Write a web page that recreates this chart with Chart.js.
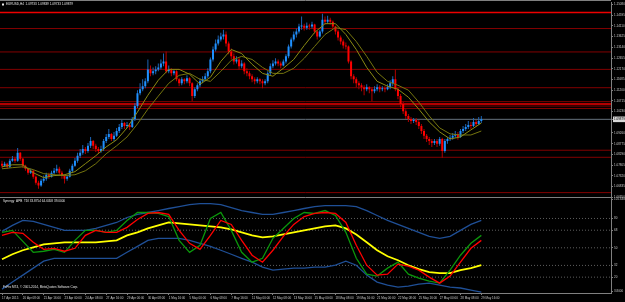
<!DOCTYPE html>
<html>
<head>
  <title>EURUSD,H4</title>
  <script src="https://cdn.jsdelivr.net/npm/chart.js"></script>
  <style>
    html, body { margin: 0; padding: 0; background: #000; overflow: hidden; }
  </style>
</head>
<body>
  <canvas id="myChart" width="625" height="302"></canvas>

  <script>
    // Header / footer texts
    const symbolTitle = 'EURUSD,H4  1.09733 1.09839 1.09733 1.09879';
    const tdiTitle = 'Synergy_APB_TDI 33.8754 64.6058 39.0000';
    const copyright = 'FxPro MT4, \u00a9 2001-2014, MetaQuotes Software Corp.';

    // Time axis: one label every 8 H4 bars
    const labelEvery = 8;
    const timeLabels = ['17 Apr 2015', '20 Apr 08:00', '21 Apr 16:00', '23 Apr 00:00', '24 Apr 08:00',
      '27 Apr 16:00', '29 Apr 00:00', '30 Apr 08:00', '1 May 16:00', '5 May 00:00', '6 May 08:00',
      '7 May 16:00', '11 May 00:00', '12 May 08:00', '13 May 16:00', '15 May 00:00', '18 May 08:00',
      '19 May 16:00', '21 May 00:00', '22 May 08:00', '25 May 16:00', '27 May 00:00', '28 May 08:00',
      '29 May 16:00'];

    // Candles (open of each bar = close of the previous one)
    const firstOpen = 1.0787;
    const closes = [
      1.0778, 1.0787, 1.0773, 1.0800, 1.0809, 1.0800, 1.0836, 1.0809, 1.0778, 1.0764,
      1.0746, 1.0755, 1.0728, 1.0701, 1.0688, 1.0710, 1.0719, 1.0737, 1.0728, 1.0746,
      1.0755, 1.0764, 1.0746, 1.0733, 1.0719, 1.0728, 1.0755, 1.0778, 1.0800, 1.0823,
      1.0836, 1.0854, 1.0845, 1.0868, 1.0890, 1.0868, 1.0854, 1.0845, 1.0854, 1.0890,
      1.0908, 1.0922, 1.0899, 1.0913, 1.0935, 1.0953, 1.0971, 1.0958, 1.0962, 1.0953,
      1.0989, 1.1048, 1.1106, 1.1124, 1.1138, 1.1160, 1.1214, 1.1196, 1.1205, 1.1214,
      1.1223, 1.1241, 1.1250, 1.1205, 1.1214, 1.1196, 1.1205, 1.1169, 1.1151, 1.1169,
      1.1160, 1.1174, 1.1151, 1.1093, 1.1124, 1.1142, 1.1160, 1.1169, 1.1183, 1.1205,
      1.1259, 1.1304, 1.1331, 1.1349, 1.1363, 1.1372, 1.1331, 1.1295, 1.1273, 1.1250,
      1.1259, 1.1228, 1.1241, 1.1205, 1.1196, 1.1183, 1.1169, 1.1160, 1.1169, 1.1160,
      1.1151, 1.1160, 1.1196, 1.1228, 1.1241, 1.1250, 1.1241, 1.1232, 1.1250, 1.1273,
      1.1318, 1.1349, 1.1372, 1.1385, 1.1408, 1.1412, 1.1403, 1.1412, 1.1408, 1.1417,
      1.1385, 1.1363, 1.1385, 1.1439, 1.1430, 1.1439, 1.1430, 1.1408, 1.1385, 1.1358,
      1.1340, 1.1322, 1.1318, 1.1250, 1.1183, 1.1169, 1.1151, 1.1142, 1.1133, 1.1124,
      1.1133, 1.1124, 1.1115, 1.1124, 1.1133, 1.1124, 1.1129, 1.1124, 1.1133, 1.1151,
      1.1169, 1.1124, 1.1093, 1.1057, 1.1025, 1.1003, 1.0989, 1.0980, 1.0985, 1.0976,
      1.0958, 1.0935, 1.0913, 1.0899, 1.0890, 1.0881, 1.0890, 1.0877, 1.0899, 1.0845,
      1.0890, 1.0899, 1.0904, 1.0913, 1.0922, 1.0908, 1.0935, 1.0944, 1.0953, 1.0962,
      1.0958, 1.0976, 1.0967, 1.0980, 1.0988
    ];
    const highs = [
      1.0800, 1.0796, 1.0791, 1.0809, 1.0822, 1.0818, 1.0858, 1.0840, 1.0813, 1.0782,
      1.0768, 1.0764, 1.0760, 1.0733, 1.0710, 1.0719, 1.0733, 1.0746, 1.0746, 1.0755,
      1.0768, 1.0782, 1.0773, 1.0755, 1.0740, 1.0737, 1.0764, 1.0787, 1.0813, 1.0836,
      1.0854, 1.0872, 1.0863, 1.0881, 1.0908, 1.0894, 1.0877, 1.0863, 1.0868, 1.0899,
      1.0922, 1.0944, 1.0926, 1.0931, 1.0949, 1.0967, 1.0985, 1.0976, 1.0976, 1.0971,
      1.0998, 1.1061, 1.1120, 1.1151, 1.1169, 1.1174, 1.1259, 1.1232, 1.1223, 1.1228,
      1.1241, 1.1259, 1.1286, 1.1295, 1.1232, 1.1219, 1.1214, 1.1210, 1.1174, 1.1178,
      1.1174, 1.1187, 1.1178, 1.1156, 1.1133, 1.1151, 1.1174, 1.1183, 1.1196, 1.1219,
      1.1268, 1.1318, 1.1349, 1.1367, 1.1380, 1.1394, 1.1385, 1.1340, 1.1309, 1.1286,
      1.1273, 1.1268, 1.1255, 1.1246, 1.1219, 1.1205, 1.1192, 1.1178, 1.1178, 1.1174,
      1.1169, 1.1169, 1.1205, 1.1241, 1.1255, 1.1264, 1.1259, 1.1250, 1.1259, 1.1282,
      1.1327, 1.1358, 1.1385, 1.1399, 1.1421, 1.1453, 1.1421, 1.1426, 1.1421, 1.1430,
      1.1421, 1.1390, 1.1394, 1.1466, 1.1453, 1.1457, 1.1448, 1.1435, 1.1412, 1.1394,
      1.1367, 1.1349, 1.1336, 1.1322, 1.1255, 1.1192, 1.1178, 1.1160, 1.1151, 1.1142,
      1.1147, 1.1138, 1.1133, 1.1138, 1.1147, 1.1142, 1.1138, 1.1138, 1.1147, 1.1165,
      1.1183, 1.1214, 1.1133, 1.1102, 1.1066, 1.1034, 1.1012, 1.0998, 1.0994, 1.0994,
      1.0985, 1.0967, 1.0944, 1.0922, 1.0908, 1.0899, 1.0899, 1.0899, 1.0908, 1.0904,
      1.0899, 1.0908, 1.0917, 1.0926, 1.0935, 1.0931, 1.0944, 1.0958, 1.0967, 1.0980,
      1.0976, 1.0994, 1.0985, 1.0998, 1.1003
    ];
    const lows = [
      1.0768, 1.0773, 1.0764, 1.0768, 1.0796, 1.0791, 1.0796, 1.0800, 1.0768, 1.0755,
      1.0737, 1.0740, 1.0719, 1.0692, 1.0674, 1.0683, 1.0701, 1.0710, 1.0719, 1.0724,
      1.0737, 1.0746, 1.0737, 1.0719, 1.0697, 1.0710, 1.0724, 1.0746, 1.0773, 1.0791,
      1.0813, 1.0827, 1.0831, 1.0836, 1.0858, 1.0854, 1.0840, 1.0831, 1.0836, 1.0845,
      1.0881, 1.0899, 1.0890, 1.0890, 1.0908, 1.0926, 1.0944, 1.0944, 1.0949, 1.0940,
      1.0949, 1.0980, 1.1039, 1.1097, 1.1115, 1.1129, 1.1151, 1.1183, 1.1187, 1.1192,
      1.1205, 1.1214, 1.1228, 1.1196, 1.1196, 1.1183, 1.1187, 1.1160, 1.1138, 1.1142,
      1.1147, 1.1151, 1.1138, 1.1070, 1.1084, 1.1115, 1.1133, 1.1151, 1.1160, 1.1174,
      1.1196, 1.1250, 1.1295, 1.1322, 1.1340, 1.1349, 1.1318, 1.1282, 1.1259, 1.1236,
      1.1241, 1.1214, 1.1219, 1.1192, 1.1183, 1.1169, 1.1156, 1.1147, 1.1151, 1.1147,
      1.1129, 1.1142, 1.1151, 1.1187, 1.1219, 1.1232, 1.1228, 1.1219, 1.1228, 1.1241,
      1.1264, 1.1309, 1.1340, 1.1358, 1.1376, 1.1394, 1.1390, 1.1394, 1.1394, 1.1399,
      1.1376, 1.1349, 1.1358, 1.1376, 1.1417, 1.1421, 1.1417, 1.1399, 1.1372, 1.1345,
      1.1327, 1.1309, 1.1304, 1.1241, 1.1169, 1.1151, 1.1133, 1.1124, 1.1115, 1.1097,
      1.1115, 1.1106, 1.1070, 1.1106, 1.1115, 1.1111, 1.1115, 1.1111, 1.1120, 1.1124,
      1.1138, 1.1115, 1.1079, 1.1043, 1.1012, 1.0989, 1.0976, 1.0967, 1.0971, 1.0962,
      1.0944, 1.0922, 1.0899, 1.0885, 1.0872, 1.0863, 1.0872, 1.0863, 1.0868, 1.0814,
      1.0836, 1.0877, 1.0890, 1.0895, 1.0904, 1.0895, 1.0904, 1.0926, 1.0935, 1.0944,
      1.0944, 1.0953, 1.0953, 1.0962, 1.0971
    ];

    // Indicator lines, read every 4th bar
    const sampleBars = [0, 4, 8, 12, 16, 20, 24, 28, 32, 36, 40, 44, 48, 52, 56, 60, 64, 68, 72, 76,
      80, 84, 88, 92, 96, 100, 104, 108, 112, 116, 120, 124, 128, 132, 136, 140, 144, 148, 152, 156,
      160, 164, 168, 172, 176, 180, 184];
    const maFast = [1.0773, 1.0782, 1.0782, 1.0746, 1.0724, 1.0733, 1.0737, 1.0751, 1.0787, 1.0823,
      1.0863, 1.0895, 1.0949, 1.1021, 1.1097, 1.1165, 1.1214, 1.1214, 1.1192, 1.1147,
      1.1178, 1.1250, 1.1304, 1.1286, 1.1237, 1.1196, 1.1183, 1.1219, 1.1259, 1.1322,
      1.1381, 1.1421, 1.1421, 1.1372, 1.1304, 1.1223, 1.1160, 1.1138, 1.1124, 1.1088,
      1.1034, 1.0976, 1.0931, 1.0899, 1.0908, 1.0940, 1.0971];
    const maSlow = [1.0764, 1.0769, 1.0773, 1.0760, 1.0742, 1.0737, 1.0733, 1.0737, 1.0755, 1.0787,
      1.0832, 1.0868, 1.0908, 1.0967, 1.1034, 1.1093, 1.1151, 1.1187, 1.1196, 1.1169,
      1.1160, 1.1205, 1.1255, 1.1273, 1.1259, 1.1223, 1.1196, 1.1196, 1.1219, 1.1264,
      1.1318, 1.1372, 1.1403, 1.1394, 1.1340, 1.1273, 1.1201, 1.1160, 1.1142, 1.1120,
      1.1066, 1.1003, 1.0949, 1.0922, 1.0917, 1.0917, 1.0935];

    const tdiGreen = [65.8, 67.8, 56.6, 45.4, 46.5, 48.5, 45.4, 57.6, 67.8, 67.8,
      65.8, 67.8, 78.0, 86.1, 86.1, 85.1, 82.0, 57.6, 45.4, 52.6,
      80.0, 86.1, 67.8, 45.4, 35.3, 39.3, 59.7, 69.8, 80.0, 86.1,
      85.1, 88.1, 83.0, 65.8, 39.3, 23.1, 21.1, 29.2, 35.3, 23.1,
      19.0, 16.0, 13.9, 27.2, 42.4, 54.6, 62.7];
    const tdiRed = [62.7, 65.8, 64.8, 55.6, 48.5, 49.5, 46.5, 49.5, 62.7, 67.8,
      65.8, 65.8, 70.9, 79.0, 85.1, 86.1, 84.1, 67.8, 54.6, 48.5,
      62.7, 78.0, 73.9, 57.6, 42.4, 35.3, 47.5, 61.7, 73.9, 82.0,
      85.1, 86.1, 85.1, 75.9, 52.6, 32.2, 22.1, 23.1, 33.3, 31.2,
      27.2, 20.0, 13.9, 21.1, 35.3, 49.5, 57.6];
    const tdiBase = [38.3, 43.4, 47.5, 50.5, 53.6, 54.6, 55.6, 55.6, 55.6, 55.6,
      56.6, 57.6, 62.7, 65.8, 69.8, 72.9, 75.9, 74.9, 73.9, 72.9,
      71.9, 70.9, 68.8, 65.8, 62.7, 60.7, 61.7, 63.7, 65.8, 67.8,
      69.8, 71.9, 72.9, 69.8, 63.7, 55.6, 47.5, 41.4, 37.3, 32.2,
      28.2, 25.1, 24.1, 24.1, 27.2, 29.2, 32.2];
    const tdiUpper = [66.8, 72.9, 78.0, 77.0, 73.9, 70.9, 67.8, 67.8, 67.8, 69.8,
      72.9, 75.9, 81.0, 84.1, 86.1, 88.1, 90.2, 92.2, 94.2, 95.2,
      95.2, 94.2, 91.2, 88.1, 86.1, 84.1, 84.1, 86.1, 88.1, 90.2,
      92.2, 93.2, 93.2, 93.2, 92.2, 88.1, 83.0, 78.0, 73.9, 69.8,
      65.8, 61.7, 59.7, 61.7, 67.8, 73.9, 78.0];
    const tdiLower = [7.8, 15.0, 22.1, 29.2, 36.3, 39.3, 39.3, 39.3, 39.3, 39.3,
      39.3, 39.3, 45.4, 51.5, 57.6, 59.7, 59.7, 59.7, 57.6, 54.6,
      51.5, 47.5, 43.4, 39.3, 35.3, 30.2, 27.2, 28.2, 29.2, 29.2,
      30.2, 30.2, 32.2, 36.3, 32.2, 22.1, 15.0, 11.9, 9.9, 10.9,
      12.9, 13.9, 11.9, 9.9, 8.9, 6.8, 4.8];

    // Horizontal support / resistance lines
    const majorLevels = [1.1472, 1.1057];
    const minorLevels = [1.1399, 1.1293, 1.1214, 1.1131, 1.1068, 1.1048, 1.1037, 1.0848, 1.0816, 1.0656];
    const currentPrice = 1.09879;

    // Axis ticks
    const priceTicks = [1.15080, 1.14595, 1.14110, 1.13625, 1.13140, 1.12655, 1.12170, 1.11685,
      1.11200, 1.10715, 1.10230, 1.09260, 1.08775, 1.08290, 1.07805, 1.07320, 1.06835, 1.06350];
    const tdiLevels = [80, 68, 50, 32, 20];
    const tdiTickValues = [99.5, 80, 68, 50, 32, 20, 5.5];
    const tdiTickLabels = ['101.3400', '80', '68', '50', '32', '20', '3.8000'];

    // Visible ranges
    const xMin = -0.77, xMax = 233.78;
    const priceMin = 1.06335, priceMax = 1.15155;
    const tdiMin = 3.8, tdiMax = 101.34;

    const opens = closes.map((c, i) => i === 0 ? firstOpen : closes[i - 1]);
    const isUp = closes.map((c, i) => c >= opens[i]);

    const fontFamily = 'Liberation Sans';
    const tickFont = { family: fontFamily, size: 3 };
    const axisGray = '#808080';

    function hLine(value, color, width, axis, dash, order) {
      return {
        type: 'line',
        data: [{ x: xMin, y: value }, { x: xMax, y: value }],
        borderColor: color,
        borderWidth: width,
        borderDash: dash || [],
        pointRadius: 0,
        yAxisID: axis,
        order: order
      };
    }

    function sampled(values, color, width, axis, order) {
      return {
        type: 'line',
        data: sampleBars.map((b, k) => ({ x: b, y: values[k] })),
        borderColor: color,
        borderWidth: width,
        pointRadius: 0,
        tension: 0,
        yAxisID: axis,
        order: order
      };
    }

    const datasets = [];
    minorLevels.forEach(p => datasets.push(hLine(p, '#820000', 1, 'y', null, 20)));
    majorLevels.forEach(p => datasets.push(hLine(p, '#ee0000', 1.5, 'y', null, 19)));
    datasets.push(hLine(currentPrice, '#66737f', 1, 'y', null, 18));
    tdiLevels.forEach(v => datasets.push(hLine(v, '#5e5e5e', 1, 'y2', [1, 2], 17)));

    datasets.push({
      type: 'bar',
      data: closes.map((c, i) => ({ x: i, y: [lows[i], highs[i]] })),
      backgroundColor: isUp.map(u => u ? '#1d64b4' : '#b00000'),
      barThickness: 1,
      grouped: false,
      inflateAmount: 0,
      yAxisID: 'y',
      order: 12
    });
    datasets.push({
      type: 'bar',
      data: closes.map((c, i) => ({ x: i, y: [opens[i], c] })),
      backgroundColor: isUp.map(u => u ? '#1e90ff' : '#ff0000'),
      barThickness: 2,
      minBarLength: 1,
      grouped: false,
      inflateAmount: 0,
      yAxisID: 'y',
      order: 11
    });
    datasets.push(sampled(maSlow, '#75750e', 1, 'y', 10));
    datasets.push(sampled(maFast, '#8a8a12', 1, 'y', 9));

    datasets.push(sampled(tdiUpper, '#1f4f96', 1.3, 'y2', 8));
    datasets.push(sampled(tdiLower, '#1f4f96', 1.3, 'y2', 7));
    datasets.push(sampled(tdiBase, '#ffff00', 1.8, 'y2', 6));
    datasets.push(sampled(tdiGreen, '#0b960b', 1.3, 'y2', 5));
    datasets.push(sampled(tdiRed, '#ff0000', 1.3, 'y2', 4));

    // Background, frame and header texts
    const mt4Frame = {
      id: 'mt4Frame',
      beforeDraw(chart) {
        const ctx = chart.ctx;
        ctx.save();
        ctx.fillStyle = '#000';
        ctx.fillRect(0, 0, chart.width, chart.height);
        ctx.restore();
      },
      afterDraw(chart) {
        const { ctx, chartArea } = chart;
        const y = chart.scales.y, y2 = chart.scales.y2;
        ctx.save();
        ctx.strokeStyle = axisGray;
        ctx.lineWidth = 1;
        ctx.beginPath();
        ctx.moveTo(0, 0.5); ctx.lineTo(chartArea.right, 0.5);
        ctx.moveTo(0, Math.round(y.bottom) - 0.5); ctx.lineTo(chartArea.right, Math.round(y.bottom) - 0.5);
        ctx.stroke();
        ctx.font = '3.1px "' + fontFamily + '"';
        ctx.fillStyle = '#e6e6e6';
        ctx.textBaseline = 'middle';
        ctx.fillRect(2, 3.5, 2, 2);
        ctx.fillText(symbolTitle, 6, 4.5);
        ctx.fillText(tdiTitle, 3, y2.top + 4);
        ctx.fillText(copyright, 3, y2.bottom - 6);
        ctx.restore();
      }
    };

    const ctx = document.getElementById('myChart').getContext('2d');
    const myChart = new Chart(ctx, {
      type: 'bar',
      data: { datasets: datasets },
      plugins: [mt4Frame],
      options: {
        responsive: false,
        animation: false,
        devicePixelRatio: 1,
        events: [],
        layout: { padding: { top: 1, left: 0, right: 0, bottom: 0 } },
        plugins: { legend: { display: false }, tooltip: { enabled: false } },
        scales: {
          x: {
            type: 'linear',
            min: xMin,
            max: xMax,
            offset: false,
            grid: { display: true, drawOnChartArea: false, tickLength: 2, color: axisGray, offset: false },
            border: { display: true, color: axisGray },
            afterBuildTicks: s => { s.ticks = timeLabels.map((t, k) => ({ value: k * labelEvery })); },
            afterFit: s => { s.height = 9; },
            ticks: {
              autoSkip: false, maxRotation: 0, align: 'start', padding: 1,
              color: '#c8c8c8', font: tickFont,
              callback: (v, i) => timeLabels[i]
            }
          },
          y: {
            type: 'linear',
            position: 'right',
            stack: 'panes',
            stackWeight: 196,
            min: priceMin,
            max: priceMax,
            grid: { drawOnChartArea: false, tickLength: 2, color: axisGray },
            border: { color: axisGray },
            afterBuildTicks: s => { s.ticks = priceTicks.concat([currentPrice]).map(v => ({ value: v })); },
            afterFit: s => { s.width = 14; },
            ticks: {
              autoSkip: false, padding: 1, font: tickFont,
              color: c => (c.tick && c.tick.value === currentPrice) ? '#000' : '#c8c8c8',
              showLabelBackdrop: c => !!(c.tick && c.tick.value === currentPrice),
              backdropColor: '#d8d8d8',
              backdropPadding: { top: 1, bottom: 1, left: 1, right: 3 },
              callback: v => v.toFixed(5)
            }
          },
          y2: {
            type: 'linear',
            position: 'right',
            stack: 'panes',
            stackWeight: 96,
            min: tdiMin,
            max: tdiMax,
            grid: { drawOnChartArea: false, tickLength: 2, color: axisGray },
            border: { color: axisGray },
            afterBuildTicks: s => { s.ticks = tdiTickValues.map(v => ({ value: v })); },
            afterFit: s => { s.width = 14; },
            ticks: {
              autoSkip: false, padding: 1, font: tickFont, color: '#c8c8c8',
              callback: (v, i) => tdiTickLabels[i]
            }
          }
        }
      }
    });
  </script>
</body>
</html>
